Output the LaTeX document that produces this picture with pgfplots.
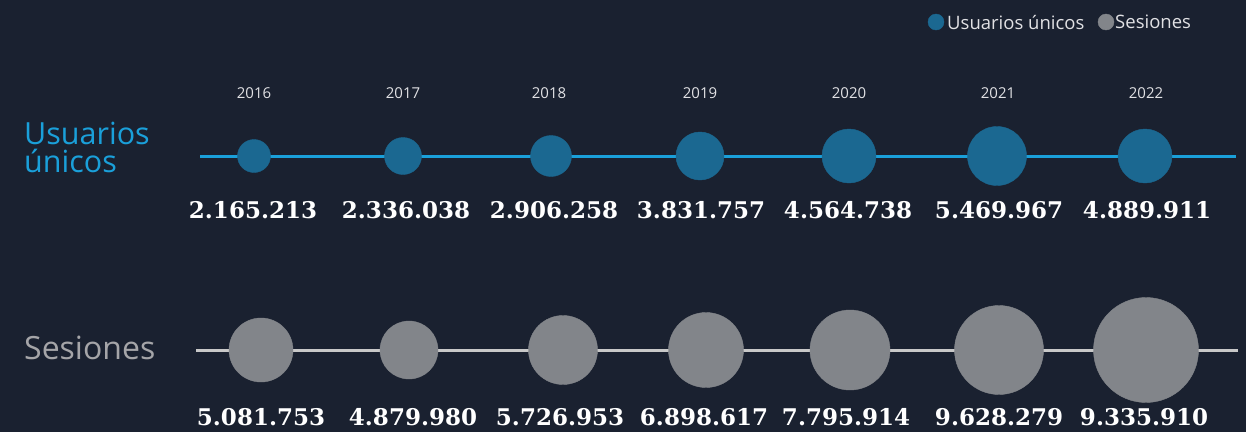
\documentclass[border=0pt]{standalone}
\usepackage{pgfplots}
\pgfplotsset{compat=1.18}
\usepackage{fontspec}
\newfontfamily\labfont{Open Sans}
\newfontfamily\numfont{DejaVu Serif}
\definecolor{bgc}{RGB}{26,33,48}
\definecolor{ucirc}{RGB}{27,104,145}
\definecolor{uline}{RGB}{26,160,218}
\definecolor{scirc}{RGB}{130,133,138}
\definecolor{sline}{RGB}{200,200,200}
\definecolor{stext}{RGB}{165,165,168}
\definecolor{ytext}{RGB}{225,225,228}
\begin{document}
\begin{tikzpicture}
\fill[bgc] (0,0) rectangle (1246pt,432pt);
\begin{axis}[
  at={(0,0)}, anchor=south west,
  width=1246pt, height=432pt, scale only axis,
  xmin=0, xmax=1246, ymin=0, ymax=432, y dir=reverse,
  enlargelimits=false, hide axis, clip=false,
]
% circles: Usuarios unicos
\addplot[scatter, only marks, mark=*,
  scatter/use mapped color={draw=ucirc, fill=ucirc},
  visualization depends on={\thisrow{r}\as\rad},
  scatter/@pre marker code/.append style={/tikz/mark size=\rad}]
  table[x=x,y=y] {
x y r
254 156 16.5
403 156 18.5
551 156 20.5
700 156 24
849 156 27
997 156 29.5
1145 156 27
};
% circles: Sesiones
\addplot[scatter, only marks, mark=*,
  scatter/use mapped color={draw=scirc, fill=scirc},
  visualization depends on={\thisrow{r}\as\rad},
  scatter/@pre marker code/.append style={/tikz/mark size=\rad}]
  table[x=x,y=y] {
x y r
261 350 32
409 350 29
563 350 34.5
706 350 37.5
850 350 40
999 350 44.5
1146 350 52.5
};
% lines
\addplot[uline, line width=3pt] coordinates {(200,156) (1236,156)};
\addplot[sline, line width=3pt] coordinates {(196,350) (1238,350)};
% year labels
\addplot[only marks, mark=none, nodes near coords, point meta=explicit symbolic,
  every node near coord/.append style={anchor=center, text=ytext, font=\labfont\fontsize{15}{15}\selectfont}]
  table[x=x,y=y,meta=l] {
x y l
254 93 2016
403 93 2017
549 93 2018
700 93 2019
849 93 2020
998 93 2021
1146 93 2022
};
% values Usuarios
\addplot[only marks, mark=none, nodes near coords, point meta=explicit symbolic,
  every node near coord/.append style={anchor=center, text=white, font=\numfont\bfseries\fontsize{23}{23}\selectfont}]
  table[x=x,y=y,meta=l] {
x y l
253 210 2.165.213
406 210 2.336.038
554 210 2.906.258
701 210 3.831.757
848 210 4.564.738
999 210 5.469.967
1147 210 4.889.911
};
% values Sesiones
\addplot[only marks, mark=none, nodes near coords, point meta=explicit symbolic,
  every node near coord/.append style={anchor=center, text=white, font=\numfont\bfseries\fontsize{23}{23}\selectfont}]
  table[x=x,y=y,meta=l] {
x y l
261 417 5.081.753
413 417 4.879.980
560 417 5.726.953
704 417 6.898.617
846 417 7.795.914
999 417 9.628.279
1144 417 9.335.910
};
% row titles
\addplot[only marks, mark=none, nodes near coords, point meta=explicit symbolic,
  every node near coord/.append style={anchor=west, align=left, inner sep=0pt, text=uline, font=\labfont\fontsize{30.5}{28}\selectfont}]
  table[x=x,y=y,meta=l] {
x y l
24 147 {Usuarios\\únicos}
};
\addplot[only marks, mark=none, nodes near coords, point meta=explicit symbolic,
  every node near coord/.append style={anchor=west, inner sep=0pt, text=stext, font=\labfont\fontsize{32}{32}\selectfont}]
  table[x=x,y=y,meta=l] {
x y l
24 348 Sesiones
};
% legend
\addplot[only marks, mark=*, mark size=8, draw=ucirc, fill=ucirc] coordinates {(936,22)};
\addplot[only marks, mark=*, mark size=8, draw=scirc, fill=scirc] coordinates {(1106,22)};
\addplot[only marks, mark=none, nodes near coords, point meta=explicit symbolic,
  every node near coord/.append style={anchor=west, inner sep=0pt, text=ytext, font=\labfont\fontsize{18.5}{18.5}\selectfont}]
  table[x=x,y=y,meta=l] {
x y l
947 22 {Usuarios únicos}
1115 22 Sesiones
};
\end{axis}
\end{tikzpicture}
\end{document}
